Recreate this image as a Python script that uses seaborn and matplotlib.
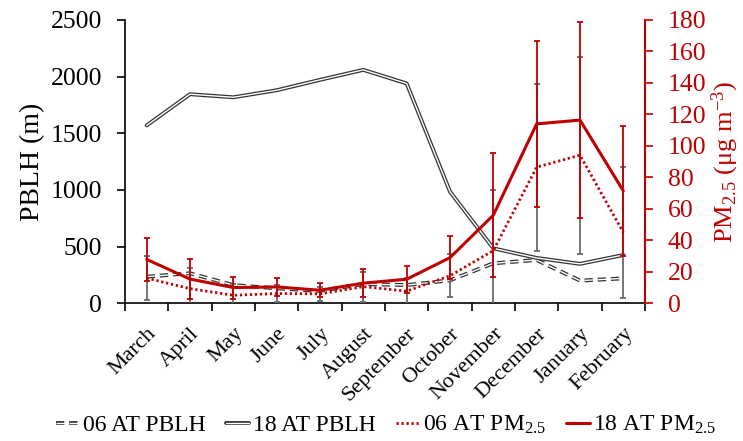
import numpy as np
import pandas as pd
import matplotlib
matplotlib.use("Agg")
import matplotlib.pyplot as plt
import matplotlib.patheffects as pe
import matplotlib.transforms as mtransforms
import seaborn as sns

# ---- data ----
months = ["March", "April", "May", "June", "July", "August", "September",
          "October", "November", "December", "January", "February"]
pblh_06 = [235, 265, 161, 132, 109, 170, 161, 203, 353, 382, 200, 220]
pblh_18 = [1570, 1845, 1818, 1880, 1972, 2060, 1940, 985, 485, 400, 348, 426]
pm_06 = [16.0, 9.3, 5.1, 6.2, 6.0, 10.6, 7.7, 17.5, 33.5, 86.5, 94.1, 45.0]
pm_18 = [27.9, 15.4, 10.0, 10.4, 8.3, 12.8, 15.3, 29.0, 56.0, 114.0, 116.4, 71.4]
err_06 = [14.0, 13.0, 7.3, 5.2, 4.3, 9.5, 8.5, 13.6, 38.4, 53.0, 62.5, 41.4]
err_18 = [13.8, 12.9, 7.0, 5.6, 4.3, 9.1, 8.6, 13.5, 39.4, 52.8, 62.5, 41.3]
left_ticks = [0, 500, 1000, 1500, 2000, 2500]
right_ticks = list(range(0, 181, 20))
labels = ["06 AT PBLH", "18 AT PBLH", "06 AT PM$_{2.5}$", "18 AT PM$_{2.5}$"]

RED = "#C00000"
GRAY = "#6a6a6a"

sns.set_style("ticks")
plt.rcParams["font.family"] = ["Liberation Serif", "DejaVu Serif"]
plt.rcParams["mathtext.fontset"] = "custom"
plt.rcParams["mathtext.rm"] = "Liberation Serif"
plt.rcParams["mathtext.it"] = "Liberation Serif:italic"
plt.rcParams["mathtext.bf"] = "Liberation Serif:bold"
plt.rcParams["text.color"] = "black"
plt.rcParams["axes.labelcolor"] = "black"
plt.rcParams["xtick.color"] = "black"
plt.rcParams["ytick.color"] = "black"
plt.rcParams["axes.edgecolor"] = "black"

df = pd.DataFrame({"pos": np.arange(len(months)), "month": months,
                   "pblh_06": pblh_06, "pblh_18": pblh_18,
                   "pm_06": pm_06, "pm_18": pm_18,
                   "err_06": err_06, "err_18": err_18})

fig = plt.figure(figsize=(7.43, 4.41), dpi=100)
ax = fig.add_axes([125 / 743, 1 - 303.3 / 441, 520 / 743, 283.3 / 441])
ax2 = ax.twinx()

double = lambda c: [pe.Stroke(linewidth=2.8, foreground=c), pe.Normal()]

# PBLH lines (hollow/double style)
sns.lineplot(data=df, x="pos", y="pblh_06", ax=ax, color="white", lw=1.0,
             linestyle=(0, (6, 3.5)), label=labels[0], legend=False)
l06 = ax.lines[-1]
l06.set_path_effects(double("#333333"))
sns.lineplot(data=df, x="pos", y="pblh_18", ax=ax, color="white", lw=1.0,
             label=labels[1], legend=False)
l18 = ax.lines[-1]
l18.set_path_effects(double("#333333"))

# PM2.5 error bars and lines
ax2.errorbar(df["pos"], df["pm_06"], yerr=df["err_06"], fmt="none",
             ecolor=GRAY, elinewidth=1.3, capsize=2.5, capthick=1.3)
ax2.errorbar(df["pos"], df["pm_18"], yerr=df["err_18"], fmt="none",
             ecolor=RED, elinewidth=1.3, capsize=2.5, capthick=1.3)
sns.lineplot(data=df, x="pos", y="pm_06", ax=ax2, color=RED, lw=2.0,
             linestyle=(0, (0.8, 1.0)), label=labels[2], legend=False)
p06 = ax2.lines[-1]
sns.lineplot(data=df, x="pos", y="pm_18", ax=ax2, color=RED, lw=2.2,
             label=labels[3], legend=False)
p18 = ax2.lines[-1]

# axes limits and ticks
ax.set_xlim(-0.5, len(months) - 0.5)
ax.set_ylim(0, 2500)
ax2.set_ylim(0, 180)
ax.set_yticks(left_ticks)
ax2.set_yticks(right_ticks)

ax.set_xticks(np.arange(-0.5, len(months), 1.0))
ax.set_xticklabels([])
ax.set_xticks(np.arange(len(months)), minor=True)
ax.set_xticklabels(months, minor=True, rotation=45, ha="right", va="top",
                   rotation_mode="anchor", fontsize=16)
off = mtransforms.ScaledTranslation(3 / 100, 0, fig.dpi_scale_trans)
for t in ax.get_xticklabels(minor=True):
    t.set_transform(t.get_transform() + off)
ax.tick_params(axis="x", which="major", length=5.5, width=1.2, direction="out")
ax.tick_params(axis="x", which="minor", length=0, pad=15)
ax.tick_params(axis="y", length=5.5, width=1.2, direction="out", labelsize=18.5, pad=11)
ax2.tick_params(axis="y", length=5.5, width=1.2, direction="out", labelsize=18.5,
                colors=RED, pad=11)

ax.set_xlabel("")
ax.set_ylabel("PBLH (m)", fontsize=20, labelpad=4)
ax2.set_ylabel("PM$_{2.5}$ (μg m$^{\\mathrm{-3}}$)", fontsize=19, color=RED, labelpad=2)

for s in ["top", "right"]:
    ax.spines[s].set_visible(False)
for s in ["top", "left"]:
    ax2.spines[s].set_visible(False)
ax.spines["left"].set_linewidth(1.2)
ax.spines["bottom"].set_linewidth(1.2)
ax2.spines["bottom"].set_visible(False)
ax2.spines["right"].set_color(RED)
ax2.spines["right"].set_linewidth(1.5)

fig.legend([l06, l18, p06, p18], labels, loc="center left",
           bbox_to_anchor=(56 / 743, 1 - 425 / 441), ncol=4, frameon=False,
           fontsize=17, handlelength=1.0, handletextpad=0.15,
           columnspacing=0.85, borderpad=0, borderaxespad=0)

fig.savefig("out.png", dpi=100)
